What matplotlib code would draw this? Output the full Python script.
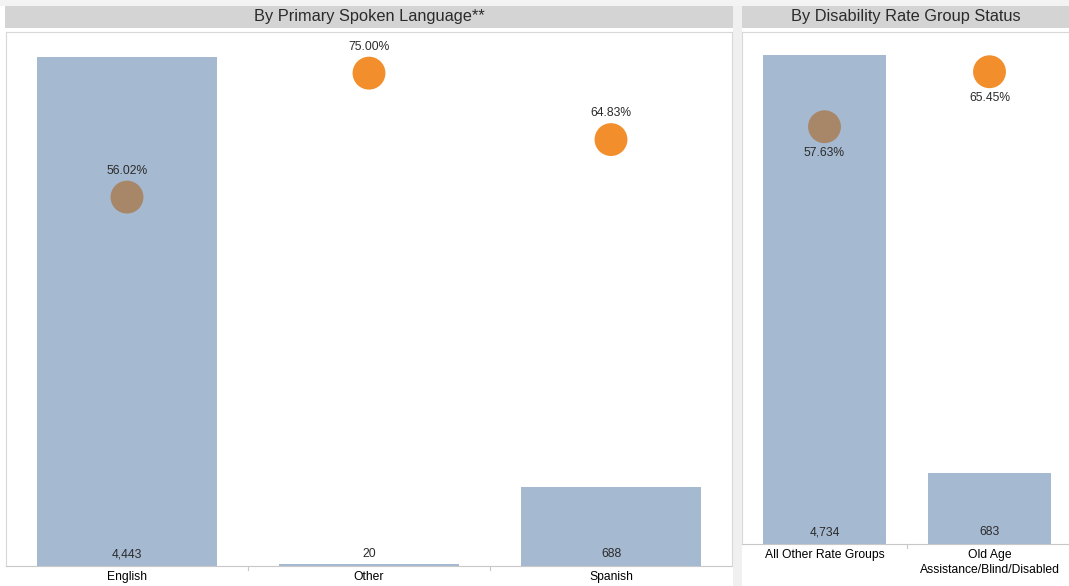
import matplotlib
matplotlib.use("Agg")
import matplotlib.pyplot as plt
from matplotlib.patches import Rectangle

plt.rcParams['font.family'] = ['Liberation Sans', 'DejaVu Sans']

# Data
lang_categories = ["English", "Other", "Spanish"]
lang_counts = [4443, 20, 688]
lang_rates = [56.02, 75.00, 64.83]

dis_categories = ["All Other Rate Groups", "Old Age\nAssistance/Blind/Disabled"]
dis_counts = [4734, 683]
dis_rates = [57.63, 65.45]

lang_title = "By Primary Spoken Language**"
dis_title = "By Disability Rate Group Status"

BAR = "#a5b9d1"
BROWN = "#a88668"
ORANGE = "#f28e2b"
TXT = "#2b2b2b"
FS = 8.7

W, H = 1069, 586
fig = plt.figure(figsize=(W / 100, H / 100), dpi=100, facecolor="white")

def fx(px):
    return px / W

def fy(py):
    return 1 - py / H

# Background strip between panels
fig.patches.append(Rectangle((fx(733), 0), fx(9), 1, transform=fig.transFigure,
                             facecolor="#f0f0f0", edgecolor="none", zorder=0))
fig.patches.append(Rectangle((0, fy(6)), 1, 6 / H, transform=fig.transFigure,
                             facecolor="#f3f3f3", edgecolor="none", zorder=0))

# Title bars
for (x0, x1, title) in [(5, 733, lang_title), (742, 1069, dis_title)]:
    fig.patches.append(Rectangle((fx(x0), fy(28)), fx(x1 - x0), 22 / H,
                                 transform=fig.transFigure, facecolor="#d4d4d4",
                                 edgecolor="none", zorder=1))
    fig.text(fx((x0 + x1) / 2), fy(17), title, ha="center", va="center",
             fontsize=11.8, color=TXT)


def panel(rect, cats, counts, rates, bar_ylim, rate_ylim, label_above):
    ax = fig.add_axes(rect)
    n = len(cats)
    xs = list(range(n))
    ax.bar(xs, counts, width=0.745, color=BAR, zorder=2)
    ax.set_xlim(-0.5, n - 0.5)
    ax.set_ylim(*bar_ylim)
    for x, c in zip(xs, counts):
        ax.annotate(f"{c:,}", (x, 0), xytext=(0, 8.5), textcoords="offset points",
                    ha="center", va="center", fontsize=FS, color=TXT, zorder=5)
    ax.set_yticks([])
    ax.set_xticks([])
    for s in ["top", "right"]:
        ax.spines[s].set_visible(False)
    ax.spines["left"].set_color("#d8d8d8")
    ax.spines["bottom"].set_color("#c8c8c8")
    ax.set_facecolor("white")
    # category labels
    for x, c in zip(xs, cats):
        ax.annotate(c, (x, 0), xytext=(0, -3.5), textcoords="offset points",
                    ha="center", va="top", fontsize=FS, color="black",
                    linespacing=1.3, annotation_clip=False)
    # separators
    for b in range(1, n):
        ax.plot([b - 0.5, b - 0.5], [0, -0.008], transform=ax.get_xaxis_transform(),
                color="#c8c8c8", lw=0.8, clip_on=False)
    ax2 = ax.twinx()
    ax2.set_ylim(*rate_ylim)
    ax2.set_yticks([])
    for s in ax2.spines.values():
        s.set_visible(False)
    cols = [BROWN] + [ORANGE] * (n - 1)
    ax2.scatter(xs, rates, s=560, c=cols, zorder=4, linewidths=0)
    for x, r in zip(xs, rates):
        off = 19 if label_above else -19
        ax2.annotate(f"{r:.2f}%", (x, r), xytext=(0, off), textcoords="offset points",
                     ha="center", va="center", fontsize=FS, color=TXT)
    return ax

# top border lines of plot areas
for (x0, x1) in [(6, 732), (742, 1069)]:
    fig.lines.append(plt.Line2D([fx(x0), fx(x1)], [fy(32), fy(32)],
                                transform=fig.transFigure, color="#d8d8d8", lw=0.8))
fig.lines.append(plt.Line2D([fx(732), fx(732)], [fy(32), fy(566)],
                            transform=fig.transFigure, color="#d8d8d8", lw=0.8))

panel([fx(6), 1 - 566 / H, fx(726), 534 / H], lang_categories, lang_counts, lang_rates,
      (0, 4443 * 534 / 509), (-0.46, 81.3), True)
panel([fx(742), 1 - 544 / H, fx(330), 512 / H], dis_categories, dis_counts, dis_rates,
      (0, 4734 * 512 / 489), (-1.7, 71.1), False)

fig.savefig("out.png", dpi=100, facecolor=fig.get_facecolor())
